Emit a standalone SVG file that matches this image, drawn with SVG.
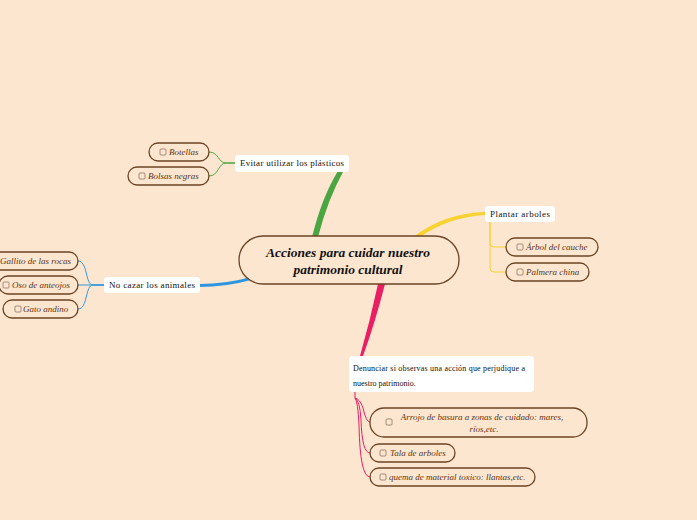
<svg xmlns="http://www.w3.org/2000/svg" width="697" height="520" viewBox="0 0 697 520">
<style>
.bg{fill:#fde6cf}
.main{fill:#fde6cf;stroke:#6b4423;stroke-width:1.3}
.maintext{font-family:"Liberation Serif",serif;font-weight:bold;font-style:italic;font-size:13.5px;fill:#111}
.sub{fill:#ffffff;stroke:none}
.subtext{font-family:"Liberation Serif",serif;font-size:9px;fill:#111}
.smalltext{font-family:"Liberation Serif",serif;font-size:8px;fill:#111}
.pill{fill:#fde6cf;stroke:#6b4423;stroke-width:1.3}
.ptext{font-family:"Liberation Serif",serif;font-style:italic;font-size:9px;fill:#5a3417}
.cb{fill:none;stroke:#8a7464;stroke-width:0.8}
.thin{fill:none;stroke-width:1}
</style>
<rect class="bg" x="0" y="0" width="697" height="520"/>
<g id="connectors">
  <path d="M312,237 Q322,197 338,171 L343,172 Q328,199 318,237 Z" fill="#4aa641"/>
  <path d="M378,284 L385,284 Q375,323 363,356 L360,356 Q370,321 378,284 Z" fill="#e91e63"/>
  <path d="M413,237 Q445,213 485,212 L485,215 Q449,217 420,237 Z" fill="#f7d231"/>
  <path d="M199,284 Q226,284 251,277 L251,280 Q226,287 199,287 Z" fill="#2e96e0"/>
  <g stroke="#4aa641" class="thin">
    <path d="M235,163 L226,163 C218,163 219,152 209,152"/>
    <path d="M235,163 L226,163 C218,163 219,176 209,176"/>
  </g>
  <g stroke="#2e96e0" class="thin">
    <path d="M104,285 L93,285 C85,285 88,261 78,261"/>
    <path d="M104,285 L78,285"/>
    <path d="M104,285 L93,285 C85,285 88,309 78,309"/>
  </g>
  <g stroke="#f7d231" class="thin" stroke-width="1.2">
    <path d="M490,222 L490,243 Q490,247 494,247 L506,247"/>
    <path d="M490,222 L490,268 Q490,272 494,272 L506,272"/>
  </g>
  <g stroke="#e91e63" class="thin">
    <path d="M355,392 L355,398 Q360,399 363,408 Q366,422 370,422"/>
    <path d="M355,398 Q360,401 361,420 Q362,453 370,453"/>
    <path d="M355,398 Q358,402 359,425 Q360,477 370,477"/>
  </g>
</g>
<g id="central">
  <rect class="main" x="239" y="236" width="220" height="48" rx="24"/>
  <text class="maintext" x="348" y="257" text-anchor="middle">Acciones para cuidar nuestro</text>
  <text class="maintext" x="348" y="274" text-anchor="middle">patrimonio cultural</text>
</g>
<g id="evitar">
  <rect class="sub" x="235" y="155" width="114" height="17" rx="3"/>
  <text class="subtext" x="240" y="166" textLength="104" lengthAdjust="spacing">Evitar utilizar los plásticos</text>
</g>
<g id="botellas">
  <rect class="pill" x="149" y="143" width="60" height="18" rx="9"/>
  <rect class="cb" x="160" y="149" width="6" height="6" rx="1"/>
  <text class="ptext" x="169" y="155">Botellas</text>
</g>
<g id="bolsas">
  <rect class="pill" x="128" y="167" width="81" height="18" rx="9"/>
  <rect class="cb" x="139" y="173" width="6" height="6" rx="1"/>
  <text class="ptext" x="148" y="179">Bolsas negras</text>
</g>
<g id="nocazar">
  <rect class="sub" x="104" y="277" width="96" height="16" rx="3"/>
  <text class="subtext" x="109" y="288" textLength="86" lengthAdjust="spacing">No cazar los animales</text>
</g>
<g id="gallito">
  <rect class="pill" x="-14" y="252" width="92" height="18" rx="9"/>
  <rect class="cb" x="-9" y="258" width="6" height="6" rx="1"/>
  <text class="ptext" x="0" y="264">Gallito de las rocas</text>
</g>
<g id="oso">
  <rect class="pill" x="-1" y="276" width="79" height="18" rx="9"/>
  <rect class="cb" x="3" y="282" width="6" height="6" rx="1"/>
  <text class="ptext" x="12" y="288">Oso de anteojos</text>
</g>
<g id="gato">
  <rect class="pill" x="3" y="300" width="75" height="18" rx="9"/>
  <rect class="cb" x="15" y="306" width="6" height="6" rx="1"/>
  <text class="ptext" x="23" y="312">Gato andino</text>
</g>
<g id="plantar">
  <rect class="sub" x="485" y="206" width="70" height="16" rx="3"/>
  <text class="subtext" x="490" y="217" textLength="60" lengthAdjust="spacing">Plantar arboles</text>
</g>
<g id="arbol">
  <rect class="pill" x="506" y="238" width="92" height="18" rx="9"/>
  <rect class="cb" x="517" y="244" width="6" height="6" rx="1"/>
  <text class="ptext" x="526" y="250">Árbol del cauche</text>
</g>
<g id="palmera">
  <rect class="pill" x="506" y="263" width="83" height="18" rx="9"/>
  <rect class="cb" x="517" y="269" width="6" height="6" rx="1"/>
  <text class="ptext" x="526" y="275">Palmera china</text>
</g>
<g id="denunciar">
  <rect class="sub" x="349" y="356" width="185" height="36" rx="4"/>
  <text class="smalltext" x="353" y="371" textLength="172" lengthAdjust="spacing">Denunciar si observas una acción que perjudique a</text>
  <text class="smalltext" x="353" y="386">nuestro patrimonio.</text>
</g>
<g id="arrojo">
  <rect class="pill" x="370" y="408" width="217" height="29" rx="14"/>
  <rect class="cb" x="386" y="419" width="6" height="6" rx="1"/>
  <text class="ptext" x="482" y="420" text-anchor="middle">Arrojo de basura a zonas de cuidado: mares,</text>
  <text class="ptext" x="484" y="432" text-anchor="middle">ríos,etc.</text>
</g>
<g id="tala">
  <rect class="pill" x="370" y="444" width="85" height="18" rx="9"/>
  <rect class="cb" x="380" y="450" width="6" height="6" rx="1"/>
  <text class="ptext" x="390" y="456">Tala de arboles</text>
</g>
<g id="quema">
  <rect class="pill" x="370" y="468" width="165" height="18" rx="9"/>
  <rect class="cb" x="380" y="474" width="6" height="6" rx="1"/>
  <text class="ptext" x="389" y="480">quema de material toxico: llantas,etc.</text>
</g>
</svg>
